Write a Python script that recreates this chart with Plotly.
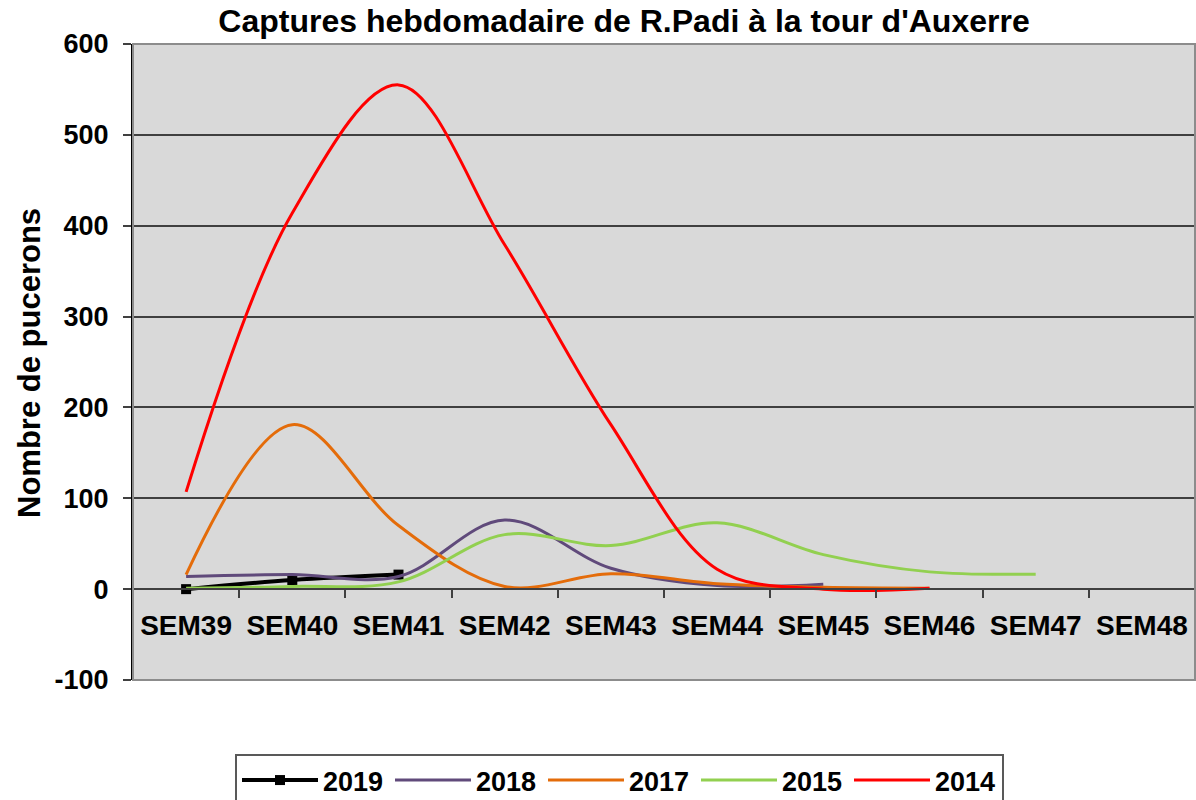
import plotly.graph_objects as go

weeks = ["SEM39", "SEM40", "SEM41", "SEM42", "SEM43", "SEM44", "SEM45", "SEM46", "SEM47", "SEM48"]
v2019 = [0, 10, 16]
v2018 = [14, 16, 14, 76, 23, 4, 5.5]
v2017 = [16, 181, 70, 3, 17, 6, 2, 1]
v2015 = [1, 3, 8, 60, 48, 73, 38, 19, 16.5]
v2014 = [107, 414, 555, 379, 181, 22, 0, 1]
y_ticks = [-100, 0, 100, 200, 300, 400, 500, 600]
y_labels = ["-100", "0", "100", "200", "300", "400", "500", "600"]

FONT = "Liberation Sans, Arial, sans-serif"

series = [
    ("2019", v2019, "#000000"),
    ("2018", v2018, "#604A7B"),
    ("2017", v2017, "#E46C0A"),
    ("2015", v2015, "#92D050"),
    ("2014", v2014, "#FF0000"),
]

fig = go.Figure()
for name, vals, col in series:
    if name == "2019":
        fig.add_trace(go.Scatter(
            x=weeks[:len(vals)], y=vals, name="<b>" + name + "</b>", mode="lines+markers",
            line=dict(color=col, width=4, shape="spline", smoothing=1),
            marker=dict(symbol="square", size=10, color=col)))
    else:
        fig.add_trace(go.Scatter(
            x=weeks[:len(vals)], y=vals, name="<b>" + name + "</b>", mode="lines",
            line=dict(color=col, width=3, shape="spline", smoothing=1)))

W, H = 1196, 800
L, R, T, B = 133, 1, 44, 120
pw, ph = W - L - R, H - T - B

fig.update_layout(
    width=W, height=H,
    margin=dict(l=L, r=R, t=T, b=B, autoexpand=False),
    paper_bgcolor="white",
    plot_bgcolor="#D9D9D9",
    font=dict(family=FONT, color="black"),
    title=dict(text="<b>Captures hebdomadaire de R.Padi à la tour d'Auxerre</b>",
               x=624 / W, xanchor="center", y=1 - 21 / H, yanchor="middle",
               font=dict(size=32, family=FONT, color="black")),
    showlegend=True,
    legend=dict(orientation="h", xref="container", x=235 / W, xanchor="left",
                yref="container", y=(H - 754) / H, yanchor="top",
                bordercolor="#595959", borderwidth=2, bgcolor="white",
                font=dict(size=27, family=FONT, color="black"),
                itemwidth=76, entrywidth=62, entrywidthmode="pixels",
                traceorder="normal"),
    xaxis=dict(type="category", categoryorder="array", categoryarray=weeks,
               range=[-0.5, 9.5], anchor="free", position=1 / 7, automargin=False,
               showline=True, linecolor="#404040", linewidth=2,
               ticks="outside", tickson="boundaries", ticklen=8, tickcolor="#404040",
               tickwidth=2, showgrid=False, zeroline=False,
               tickfont=dict(size=28, family=FONT, color="black"),
               tickprefix="<b>", ticksuffix="</b>", ticklabelstandoff=11),
    yaxis=dict(range=[-100, 600], tickmode="array", tickvals=y_ticks,
               ticktext=["<b>" + s + "</b>" for s in y_labels], automargin=False,
               showline=True, linecolor="#000000", linewidth=2,
               ticks="outside", ticklen=8, tickcolor="#404040", tickwidth=2,
               showgrid=True, gridcolor="#404040", gridwidth=1.5, zeroline=False,
               tickfont=dict(size=27, family=FONT, color="black"),
               ticklabelstandoff=9),
)

fig.add_shape(type="rect", xref="paper", yref="paper", x0=0, x1=1, y0=0, y1=1,
              line=dict(color="#8C8C8C", width=2), layer="above")

fig.add_annotation(text="<b>Nombre de pucerons</b>", textangle=-90,
                   xref="paper", yref="paper", x=(30 - L) / pw, y=(T + ph - 363) / ph,
                   xanchor="center", yanchor="middle", showarrow=False,
                   font=dict(size=31, family=FONT, color="black"))

fig.write_html("out.html", config={"displayModeBar": False},
               post_script="document.body.style.margin='0';")
